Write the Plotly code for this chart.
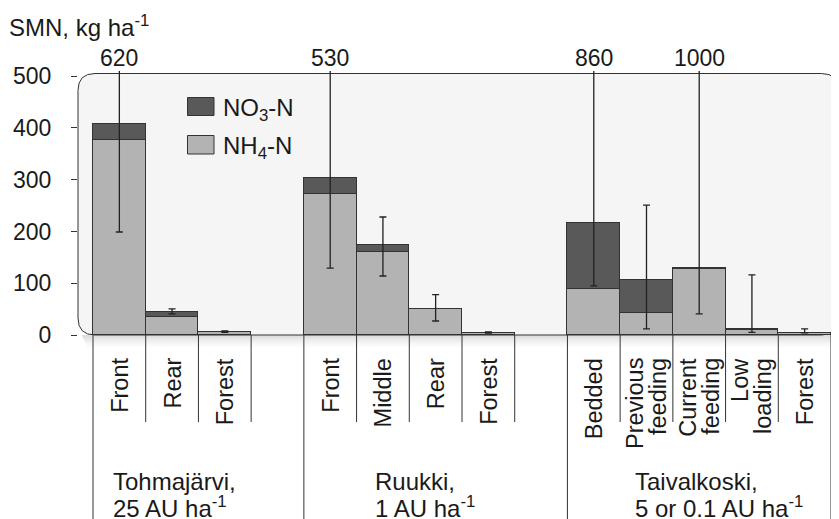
import plotly.graph_objects as go

# ---------------- data ----------------
groups = ["Tohmajärvi", "Ruukki", "Taivalkoski"]
group_line1 = ["Tohmajärvi,", "Ruukki,", "Taivalkoski,"]
group_line2 = ["25 AU ha<sup>-1</sup>", "1 AU ha<sup>-1</sup>", "5 or 0.1 AU ha<sup>-1</sup>"]
categories = [
    ["Front", "Rear", "Forest"],
    ["Front", "Middle", "Rear", "Forest"],
    ["Bedded", "Previous<br>feeding", "Current<br>feeding", "Low<br>loading", "Forest"],
]
nh4 = [377, 35, 5, 273, 160, 50, 4, 88, 42, 127, 9, 3.5]
no3 = [31, 10, 1.5, 30, 14, 1, 0.5, 129, 64, 2.5, 2, 1]
err_upper = [620, 50.5, 8, 530, 228, 78, 6, 860, 251, 1000, 116, 12]
err_lower = [199, 41, 5, 129, 114, 27, 3.5, 95, 12, 41, 5, 4]
off_scale_labels = {"620": 0, "530": 3, "860": 7, "1000": 9}  # label -> bar index
y_ticks = [0, 100, 200, 300, 400, 500]
y_title = "SMN, kg ha<sup>-1</sup>"
legend_no3 = "NO<sub>3</sub>-N"
legend_nh4 = "NH<sub>4</sub>-N"

# ---------------- positions (slots, one empty slot between groups) ----------------
pos = []
group_start = []
group_end = []
p = 0
for cats in categories:
    group_start.append(p)
    for _ in cats:
        pos.append(p)
        p += 1
    group_end.append(p - 1)
    p += 1  # gap slot

totals = [a + b for a, b in zip(nh4, no3)]
eplus = [u - t for u, t in zip(err_upper, totals)]
eminus = [t - l for t, l in zip(totals, err_lower)]

C_NH4 = "#b3b3b3"
C_NO3 = "#595959"
C_LINE = "#333333"
TXT = "#1a1a1a"
FONT = "Liberation Sans"

# page body has an 8px margin: figure is drawn at (8, 8) of the window
OFF = 8
W, H = 839 - OFF, 519 - OFF
L, R, T, B = 78 - OFF, 1, 71 - OFF, 184
PW, PH = W - L - R, H - T - B
# helpers take reference-window pixel coordinates
def px_x(x):
    return (x - 78) / PW
def px_y(y):
    return (335 - y) / PH

fig = go.Figure()
fig.add_trace(go.Bar(x=pos, y=nh4, marker=dict(color=C_NH4, line=dict(color=C_LINE, width=1)),
                     hoverinfo="skip", width=1))
fig.add_trace(go.Bar(x=pos, y=no3, marker=dict(color=C_NO3, line=dict(color=C_LINE, width=1)),
                     hoverinfo="skip", width=1))
fig.add_trace(go.Scatter(x=pos, y=totals, mode="markers", marker=dict(size=1, opacity=0),
                         error_y=dict(type="data", symmetric=False, array=eplus, arrayminus=eminus,
                                      color="#222222", thickness=1.3, width=3.5),
                         hoverinfo="skip"))

shapes = []
# rounded background panel
r = 17
x0, x1 = px_x(78), px_x(838.5)
y0, y1 = px_y(335), px_y(73.5)
rx, ry = r / PW, r / PH
path = (f"M {x0+rx},{y1} L {x1-rx},{y1} Q {x1},{y1} {x1},{y1-ry} L {x1},{y0+ry} "
        f"Q {x1},{y0} {x1-rx},{y0} L {x0+rx},{y0} Q {x0},{y0} {x0},{y0+ry} "
        f"L {x0},{y1-ry} Q {x0},{y1} {x0+rx},{y1} Z")
# shadow strips under panel
for i, a in enumerate([0.13, 0.10, 0.075, 0.05, 0.03, 0.015]):
    shapes.append(dict(type="rect", xref="paper", yref="paper", layer="below",
                       x0=px_x(82 + i), x1=px_x(838), y0=px_y(335 + 2 * i), y1=px_y(337 + 2 * i),
                       fillcolor=f"rgba(0,0,0,{a})", line=dict(width=0)))
shapes.append(dict(type="path", path=path, xref="paper", yref="paper", layer="below",
                   fillcolor="#f5f5f5", line=dict(color=C_LINE, width=1)))

# separators below the axis
for gi in range(len(categories)):
    s, e = group_start[gi], group_end[gi]
    for k in range(s, e + 2):
        xb = k - 0.5
        long_line = (k == s) or (gi == len(categories) - 1 and k == e + 1)
        shapes.append(dict(type="line", xref="x", yref="paper", x0=xb, x1=xb,
                           y0=px_y(335), y1=px_y(519 if long_line else 422),
                           line=dict(color=C_LINE, width=1)))

# legend boxes
shapes.append(dict(type="rect", xref="paper", yref="paper", x0=px_x(187.5), x1=px_x(214),
                   y0=px_y(115.5), y1=px_y(97.5), fillcolor=C_NO3, line=dict(color=C_LINE, width=1)))
shapes.append(dict(type="rect", xref="paper", yref="paper", x0=px_x(187.5), x1=px_x(214),
                   y0=px_y(154), y1=px_y(135.5), fillcolor=C_NH4, line=dict(color=C_LINE, width=1)))

ann = []
ann.append(dict(text=y_title, xref="paper", yref="paper", x=px_x(7), y=px_y(26), xanchor="left",
                yanchor="middle", showarrow=False, font=dict(size=24, color=TXT)))
ann.append(dict(text=legend_no3, xref="paper", yref="paper", x=px_x(221), y=px_y(109), xanchor="left",
                yanchor="middle", showarrow=False, font=dict(size=24, color=TXT)))
ann.append(dict(text=legend_nh4, xref="paper", yref="paper", x=px_x(221), y=px_y(147), xanchor="left",
                yanchor="middle", showarrow=False, font=dict(size=24, color=TXT)))
for lab, idx in off_scale_labels.items():
    ann.append(dict(text=lab, xref="x", yref="paper", x=pos[idx], y=px_y(58), xanchor="center",
                    yanchor="middle", showarrow=False, font=dict(size=23, color=TXT)))

# category labels (rotated)
k = 0
for cats in categories:
    for c in cats:
        lines = c.split("<br>")
        shifts = [0] if len(lines) == 1 else [-12, 11]
        for ln, sh in zip(lines, shifts):
            ann.append(dict(text=ln, xref="x", yref="paper", x=pos[k], y=px_y(356), xshift=sh,
                            xanchor="center", yanchor="top", textangle=-90, showarrow=False,
                            font=dict(size=23.5, color=TXT)))
        k += 1

# group labels
group_text_x = [111, 373, 633]
for gi in range(len(groups)):
    ann.append(dict(text=group_line1[gi], xref="paper", yref="paper", x=px_x(group_text_x[gi]),
                    y=px_y(481), xanchor="left", yanchor="middle", showarrow=False,
                    font=dict(size=24, color=TXT)))
    ann.append(dict(text=group_line2[gi], xref="paper", yref="paper", x=px_x(group_text_x[gi]),
                    y=px_y(507), xanchor="left", yanchor="middle", showarrow=False,
                    font=dict(size=24, color=TXT)))

slot = 738 / 14
c0 = 93 + slot / 2
fig.update_layout(
    width=W, height=H, autosize=False,
    margin=dict(l=L, r=R, t=T, b=B, pad=0),
    barmode="stack", bargap=0, showlegend=False,
    plot_bgcolor="rgba(0,0,0,0)", paper_bgcolor="white",
    font=dict(family=FONT, color=TXT),
    shapes=shapes, annotations=ann,
    xaxis=dict(range=[(78 - c0) / slot, (838 - c0) / slot], showticklabels=False, ticks="",
               showgrid=False, zeroline=False, showline=False, fixedrange=True),
    yaxis=dict(range=[0, 510], tickvals=y_ticks, ticks="outside", ticklen=6, tickcolor=C_LINE,
               tickwidth=1, showgrid=False, zeroline=False, showline=False,
               tickfont=dict(size=23, color=TXT), ticklabelstandoff=15, fixedrange=True),
)
fig.write_html("out.html")
